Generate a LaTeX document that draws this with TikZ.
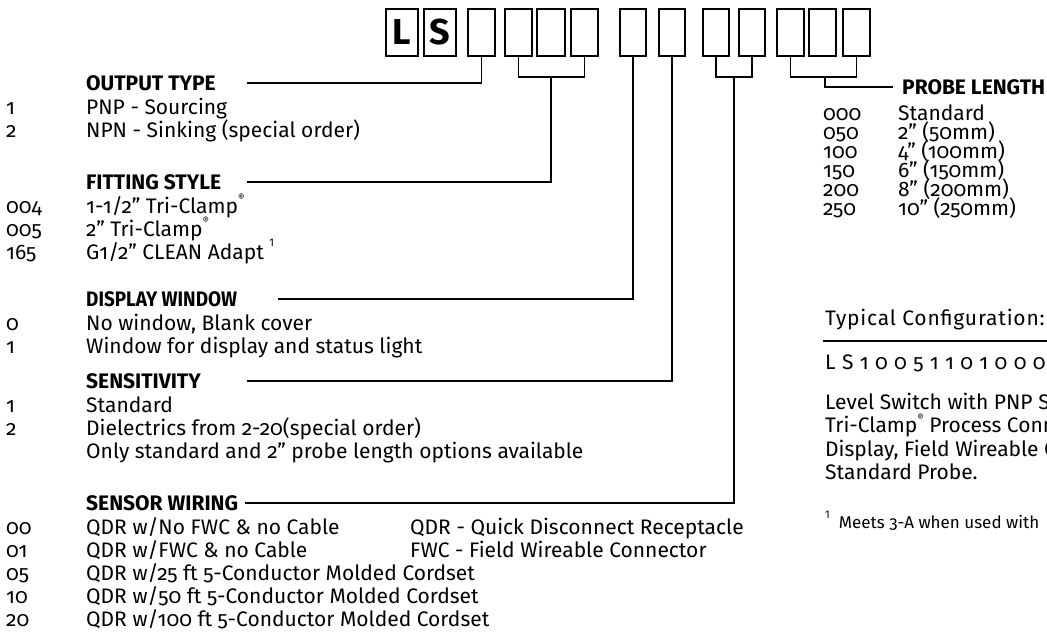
\documentclass[tikz,border=0pt]{standalone}
\usepackage{fontspec}
\setmainfont{Fira Sans}[Numbers=OldStyle]
\newcommand{\reg}{\raisebox{1.0ex}{\fontsize{10}{10}\selectfont ®}}
\newcommand{\supone}{\raisebox{1.1ex}{\addfontfeature{Numbers=Lining}\fontsize{11}{11}\selectfont 1}}
\tikzset{
  px/.style={x=1pt,y=-1pt},
  cbox/.style={draw, line width=1.9pt, minimum height=47pt, inner sep=0pt},
  hdr/.style={anchor=base west, inner sep=0pt, font=\bfseries\fontsize{21}{21}\selectfont},
  txt/.style={anchor=base west, inner sep=0pt, font=\fontsize{21}{21}\selectfont},
  sml/.style={anchor=base west, inner sep=0pt, font=\fontsize{17}{17}\selectfont},
  conn/.style={line width=1.9pt},
}
\begin{document}
\begin{tikzpicture}[px]
\useasboundingbox (0,0) rectangle (1047,632);
\clip (0,0) rectangle (1047,632);
% code boxes
\foreach \n/\a/\b in {3/468/495,4/505/532,5/537/565,6/571/598,7/620/646,8/659/685,9/703/729,10/739/765,11/777/804,12/809/836,13/843/870}{
  \node[cbox, minimum width={(\b-\a)*1pt}] (b\n) at ({(\a+\b)/2},32.5) {};
}
\node[cbox, minimum width=32pt, font=\bfseries\fontsize{36}{36}\selectfont] (b1) at (402,32.5) {L};
\node[cbox, minimum width=32pt, font=\bfseries\fontsize{36}{36}\selectfont] (b2) at (440,32.5) {S};

% left column
\def\nx{6}\def\tx{86}
% OUTPUT TYPE
\node[hdr] (hOut) at (\tx,90.5) {OUTPUT TYPE};
\node[txt] at (\nx,114) {1}; \node[txt] at (\tx,114) {PNP - Sourcing};
\node[txt] at (\nx,137) {2}; \node[txt] at (\tx,137) {NPN - Sinking (special order)};
% FITTING STYLE
\node[hdr] (hFit) at (\tx,189.5) {FITTING STYLE};
\node[txt] at (\nx,213) {004}; \node[txt] at (\tx,213) {1-1/2” Tri-Clamp\reg};
\node[txt] at (\nx,236) {005}; \node[txt] at (\tx,236) {2” Tri-Clamp\reg};
\node[txt] at (\nx,259) {165}; \node[txt] at (\tx,259) {G1/2” CLEAN Adapt \supone};
% DISPLAY WINDOW
\node[hdr] (hDis) at (\tx,306.5) {\scalebox{0.9}[1]{DISPLAY WINDOW}};
\node[txt] at (\nx,330) {0}; \node[txt] at (\tx,330) {No window, Blank cover};
\node[txt] at (\nx,353) {1}; \node[txt] at (\tx,353) {Window for display and status light};
% SENSITIVITY
\node[hdr] (hSen) at (\tx,388.5) {SENSITIVITY};
\node[txt] at (\nx,412) {1}; \node[txt] at (\tx,412) {Standard};
\node[txt] at (\nx,435) {2}; \node[txt] at (\tx,435) {Dielectrics from 2-20(special order)};
\node[txt] at (\tx,458) {Only standard and 2” probe length options available};
% SENSOR WIRING
\node[hdr] (hWir) at (\tx,510.5) {SENSOR WIRING};
\node[txt] at (\nx,534) {00}; \node[txt] at (\tx,534) {QDR w/No FWC \& no Cable};
\node[txt] at (410,534) {QDR - Quick Disconnect Receptacle};
\node[txt] at (\nx,557) {01}; \node[txt] at (\tx,557) {QDR w/FWC \& no Cable};
\node[txt] at (410,557) {FWC - Field Wireable Connector};
\node[txt] at (\nx,580) {05}; \node[txt] at (\tx,580) {QDR w/25 ft 5-Conductor Molded Cordset};
\node[txt] at (\nx,603) {10}; \node[txt] at (\tx,603) {QDR w/50 ft 5-Conductor Molded Cordset};
\node[txt] at (\nx,626) {20}; \node[txt] at (\tx,626) {QDR w/100 ft 5-Conductor Molded Cordset};

% PROBE LENGTH
\node[hdr] (hPro) at (902,94) {PROBE LENGTH};
\foreach \c/\d/\y in {000/Standard/120, 050/2” (50mm)/139, 100/4” (100mm)/158, 150/6” (150mm)/177, 200/8” (200mm)/196, 250/10” (250mm)/215}{
  \node[txt] at (823,\y) {\c}; \node[txt] at (898,\y) {\d};
}

% typical configuration
\node[txt] (typ) at (825,325) {\addfontfeature{LetterSpace=3.8}Typical Configuration:};
\coordinate (ruleA) at (823,341);
\coordinate (ruleB) at (1047,341);
\draw[line width=2pt] (ruleA) -- (ruleB);
\node[txt] at (825,369) {\addfontfeature{LetterSpace=3.8}L S 1 0 0 5 1 1 0 1 0 0 0};
\node[txt] at (825,409) {Level Switch with PNP Sourcing,};
\node[txt] at (825,432.5) {Tri-Clamp\reg{} Process Connection,};
\node[txt] at (825,456) {Display, Field Wireable Connector,};
\node[txt] at (825,479.5) {Standard Probe.};
\node[sml] at (825,528) {\supone\ \ Meets 3-A when used with};

% connectors
\coordinate (eOut) at (247,83);
\coordinate (eFit) at (247,182);
\coordinate (eDis) at (278,299);
\coordinate (eSen) at (247,381);
\coordinate (eWir) at (245,503);
\coordinate (ePro) at (893,87);
\draw[conn] (b3.south) |- (eOut);
\draw[conn] (b4.south) -- ++(0,20) -| (b6.south);
\draw[conn] (551,76) |- (eFit);
\draw[conn] (b7.south) |- (eDis);
\draw[conn] (b8.south) |- (eSen);
\draw[conn] (b9.south) -- ++(0,20) -| (b10.south);
\draw[conn] (734,76) |- (eWir);
\draw[conn] (b11.south) -- ++(0,20) -| (b13.south);
\draw[conn] (825,76) |- (ePro);
\end{tikzpicture}
\end{document}
